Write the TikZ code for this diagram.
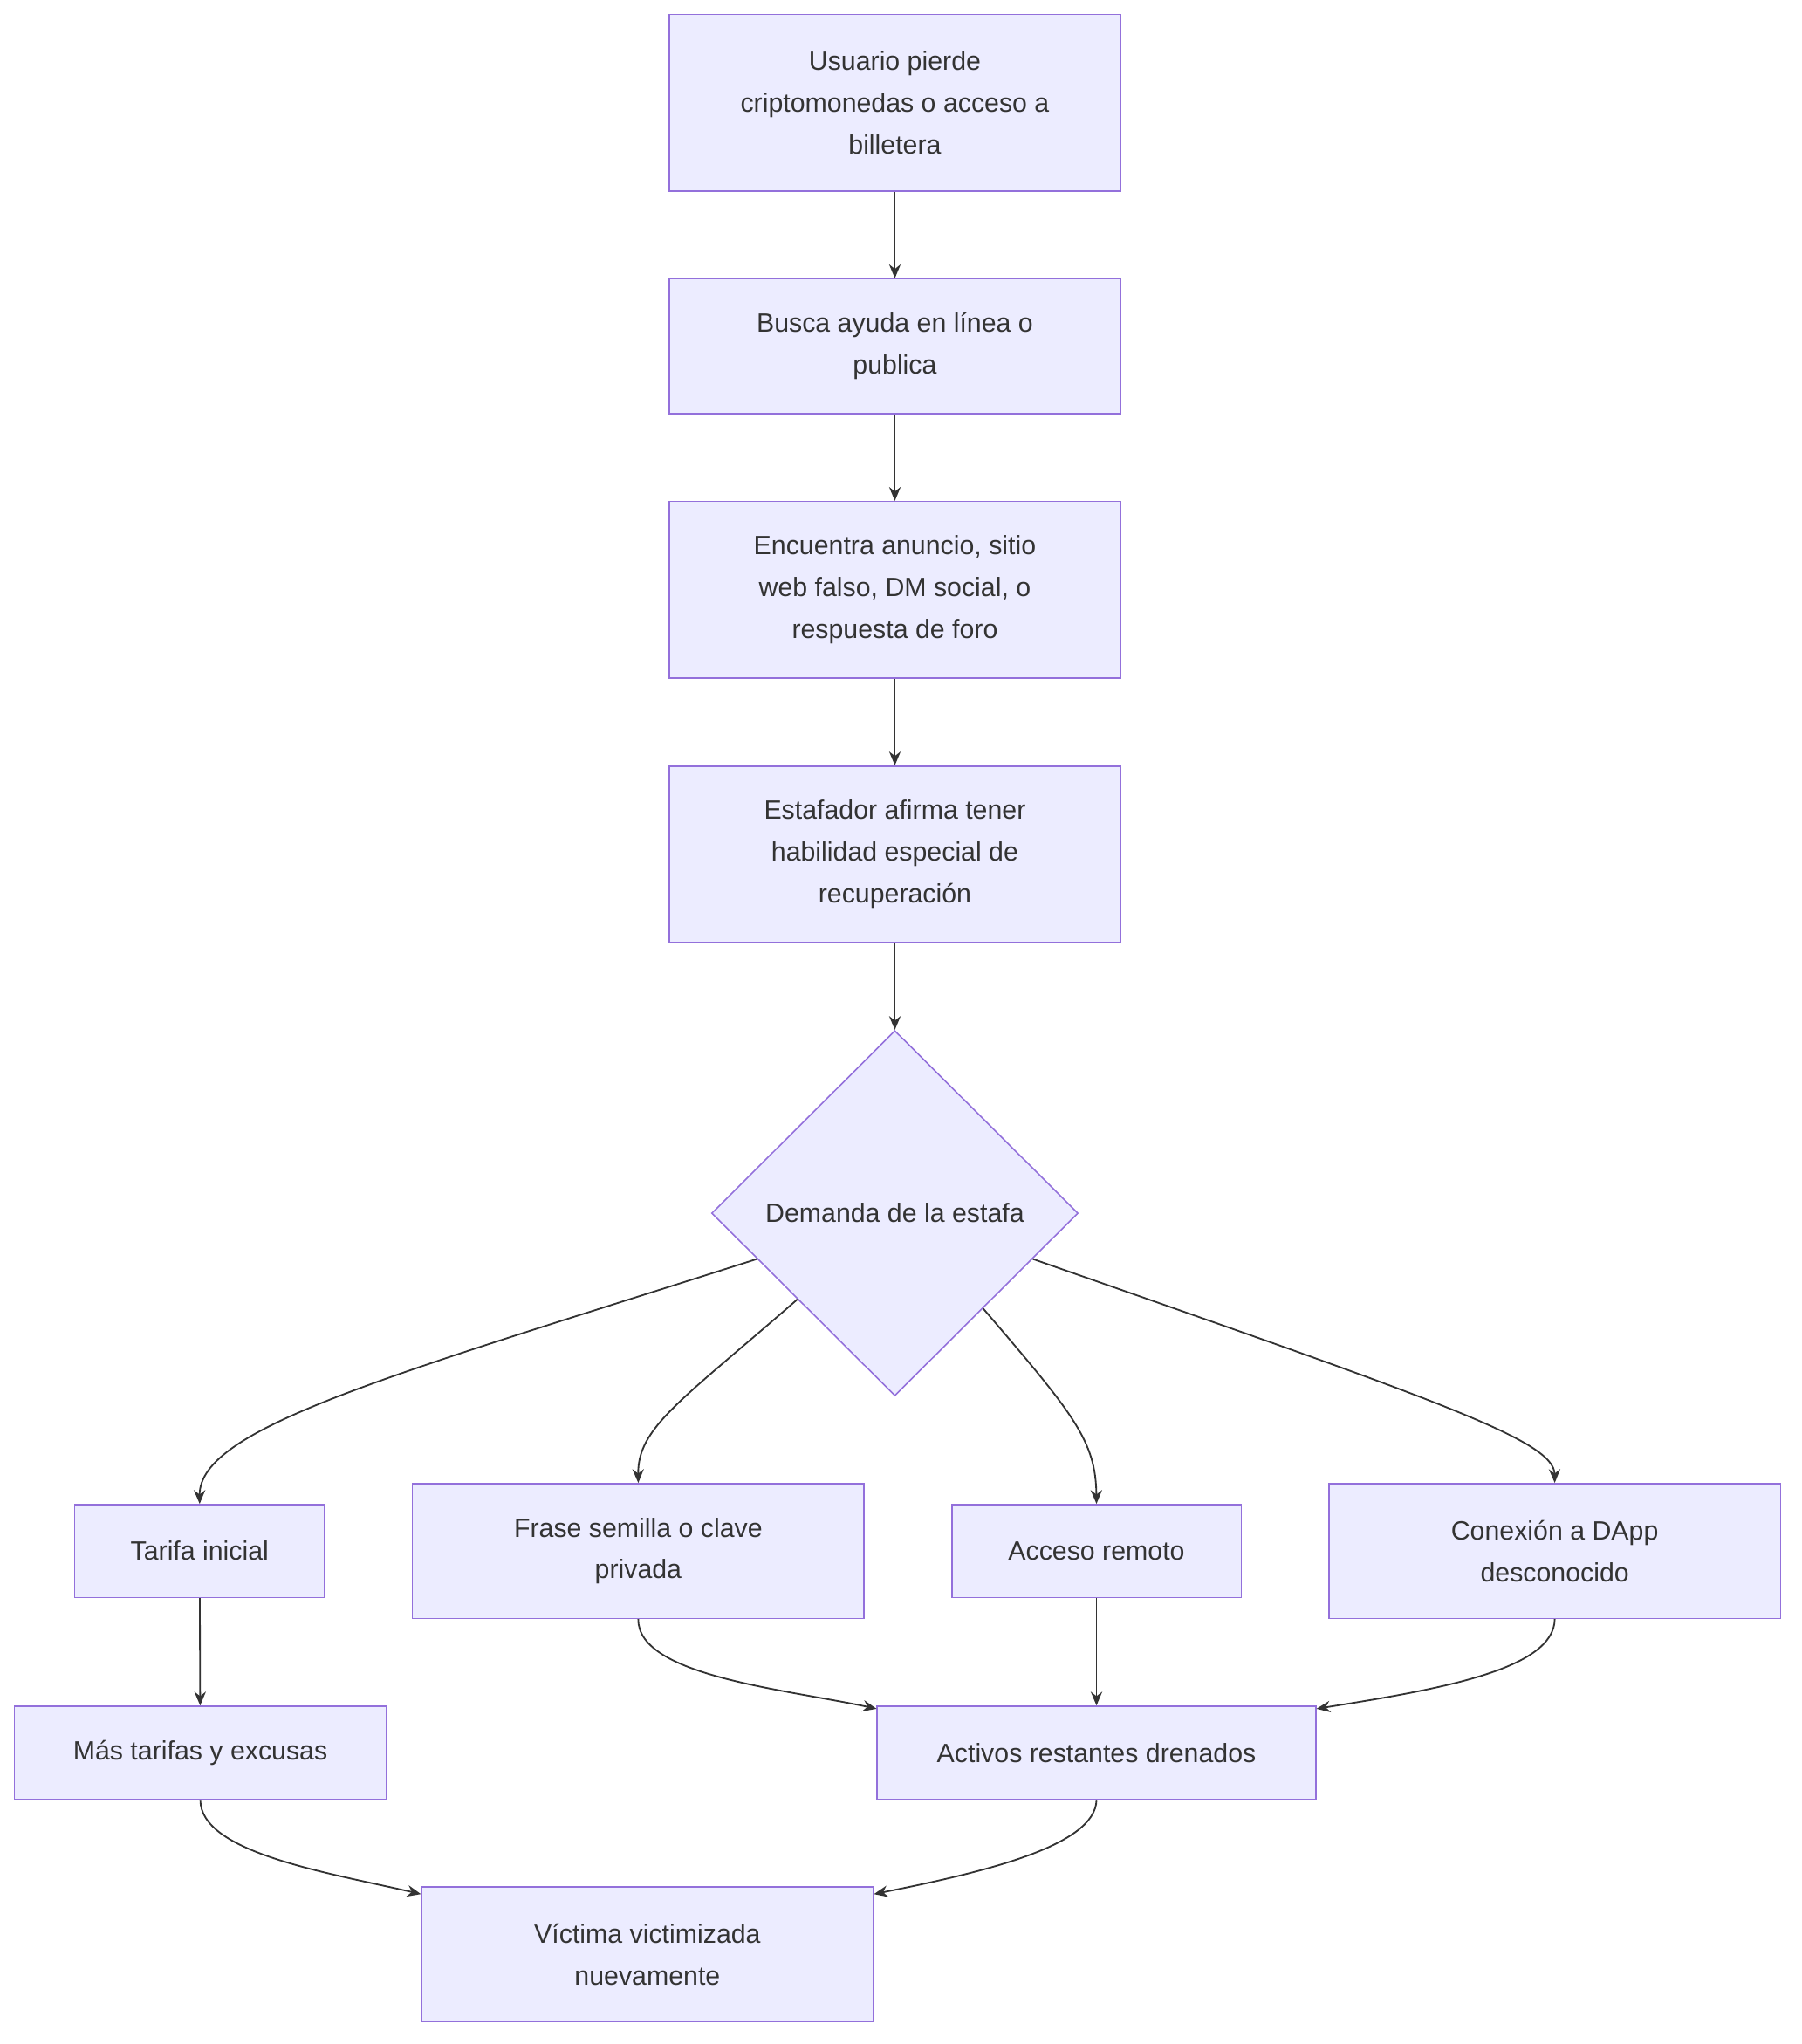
\documentclass[tikz,border=0pt]{standalone}
\usepackage{fontspec}
\setmainfont{Liberation Sans}
\usetikzlibrary{shapes.geometric,arrows.meta,calc}
\definecolor{boxfill}{HTML}{ECECFF}
\definecolor{boxline}{HTML}{9370DB}
\definecolor{ink}{HTML}{333333}
\tikzset{
  box/.style={draw=boxline, fill=boxfill, line width=0.6pt, text=ink, align=center,
    font=\fontsize{11.5}{18.2}\selectfont, inner sep=0pt},
  flow/.style={draw=ink, line width=0.7pt, -{Stealth[length=6pt,width=5pt]}}
}
\begin{document}
\begin{tikzpicture}[x=0.02cm,y=-0.02cm]
   \useasboundingbox (0,0) rectangle (1376,1561);

   % main column
   \node[box, minimum width=6.9cm, minimum height=2.7cm] (pierde) at (683.5,78.5) {Usuario pierde\\criptomonedas o acceso a\\billetera};
   \node[box, minimum width=6.9cm, minimum height=2.06cm] (busca) at (683.5,264.5) {Busca ayuda en línea o\\publica};
   \node[box, minimum width=6.9cm, minimum height=2.7cm] (anuncio) at (683.5,450.5) {Encuentra anuncio, sitio\\web falso, DM social, o\\respuesta de foro};
   \node[box, minimum width=6.9cm, minimum height=2.7cm] (afirma) at (683.5,652.5) {Estafador afirma tener\\habilidad especial de\\recuperación};
   \node[box, diamond, minimum width=5.6cm, minimum height=5.58cm] (demanda) at (683.5,926.5) {Demanda de la estafa};

   % branches
   \node[box, minimum width=3.82cm, minimum height=1.42cm] (tarifa) at (152.5,1184.5) {Tarifa inicial};
   \node[box, minimum width=6.9cm, minimum height=2.06cm] (frase) at (487.5,1184.5) {Frase semilla o clave\\privada};
   \node[box, minimum width=4.42cm, minimum height=1.42cm] (remoto) at (837.5,1184.5) {Acceso remoto};
   \node[box, minimum width=6.9cm, minimum height=2.06cm] (dapp) at (1187.5,1184.5) {Conexión a DApp\\desconocido};
   \node[box, minimum width=5.68cm, minimum height=1.42cm] (mas) at (153,1338.5) {Más tarifas y excusas};
   \node[box, minimum width=6.7cm, minimum height=1.42cm] (drenados) at (837.5,1338.5) {Activos restantes drenados};
   \node[box, minimum width=6.9cm, minimum height=2.06cm] (victima) at (494.5,1492.5) {Víctima victimizada\\nuevamente};

   \draw[flow] (pierde) -- (busca);
   \draw[flow] (busca) -- (anuncio);
   \draw[flow] (anuncio) -- (afirma);
   \draw[flow] (afirma) -- (demanda);

   \draw[flow] ($(demanda.west)!0.25!(demanda.south)$) .. controls (300,1050) and (152,1090) .. (tarifa.north);
   \draw[flow] ($(demanda.west)!0.47!(demanda.south)$) .. controls (520,1070) and (487,1090) .. (frase.north);
   \draw[flow] ($(demanda.east)!0.52!(demanda.south)$) .. controls (820,1080) and (837,1100) .. (remoto.north);
   \draw[flow] ($(demanda.east)!0.25!(demanda.south)$) .. controls (1100,1070) and (1187,1100) .. (dapp.north);

   \draw[flow] (tarifa) -- (mas);
   \draw[flow] (frase.south) .. controls (487,1280) and (600,1290) .. ([yshift=-0.05cm]drenados.north west);
   \draw[flow] (remoto) -- (drenados);
   \draw[flow] (dapp.south) .. controls (1187,1275) and (1100,1290) .. ([yshift=-0.05cm]drenados.north east);
   \draw[flow] (mas.south) .. controls (153,1415) and (250,1430) .. ([yshift=-0.12cm]victima.north west);
   \draw[flow] (drenados.south) .. controls (837,1410) and (750,1430) .. ([yshift=-0.12cm]victima.north east);
\end{tikzpicture}
\end{document}
